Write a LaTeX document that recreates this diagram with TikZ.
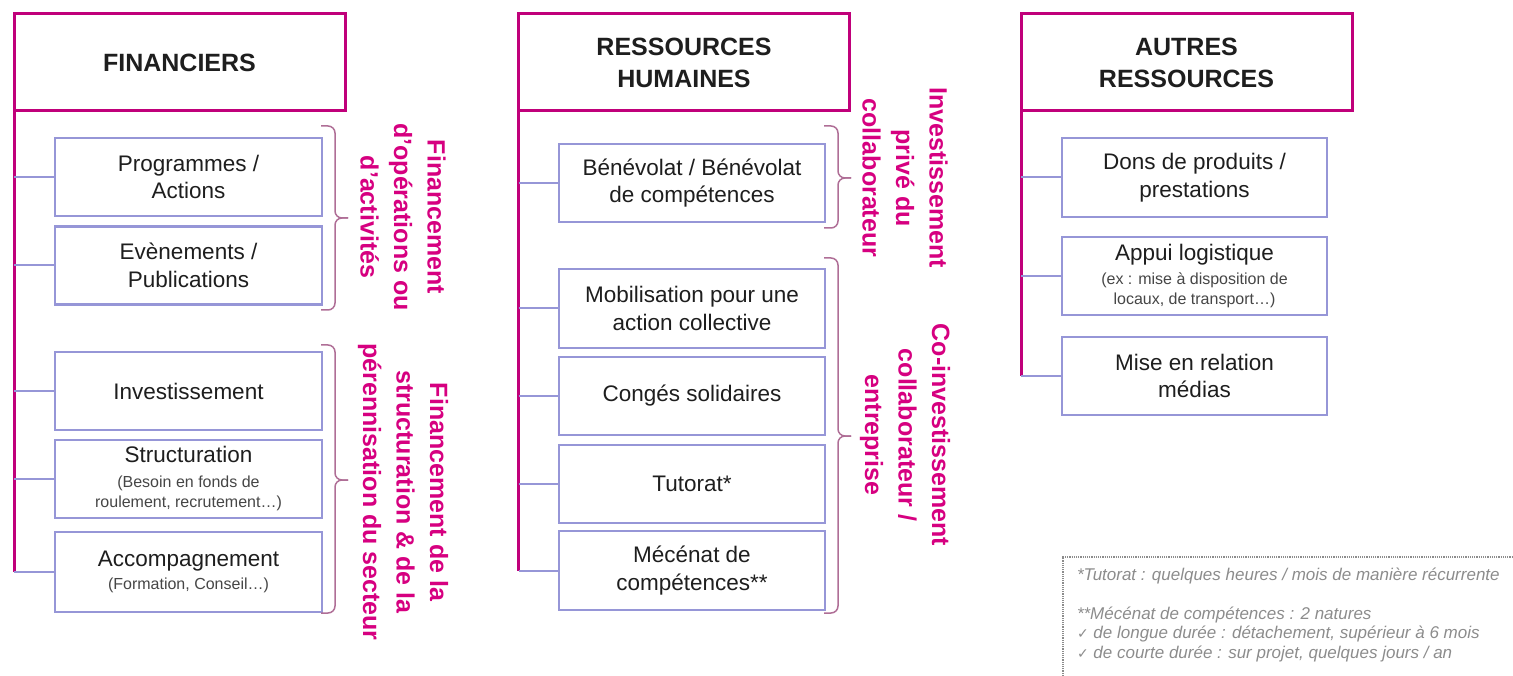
\documentclass[tikz,border=0pt]{standalone}
\usepackage{fontspec}
\setmainfont{Liberation Sans}
\newfontfamily\dejavu{DejaVu Sans}
\definecolor{mag}{RGB}{192,0,122}
\definecolor{magtext}{RGB}{214,0,128}
\definecolor{lav}{RGB}{150,150,215}
\definecolor{bracecol}{RGB}{175,110,150}
\definecolor{ink}{RGB}{30,30,30}
\definecolor{subink}{RGB}{70,70,70}
\definecolor{notegray}{RGB}{140,140,140}
\begin{document}
\begin{tikzpicture}[x=1pt,y=-1pt,
  every node/.style={outer sep=0pt,inner sep=0pt},
  headbox/.style={draw=mag,line width=3pt,fill=white,minimum width=331pt,minimum height=97pt,
    align=center,text=ink,font=\bfseries\fontsize{25}{32}\selectfont},
  itembox/.style={draw=lav,line width=2.5pt,fill=white,minimum height=78pt,
    align=center,text=ink,font=\fontsize{22.5}{27.5}\selectfont},
  trunk/.style={draw=mag,line width=3pt},
  conn/.style={draw=lav,line width=2pt},
  bracestyle/.style={draw=bracecol,line width=1.5pt,rounded corners=7pt},
  sidetext/.style={rotate=-90,align=center,text=magtext,font=\bfseries\fontsize{25}{33.5}\selectfont}
]
\useasboundingbox (0,0) rectangle (1513,676);
\newcommand{\smalltxt}{\fontsize{16}{21}\selectfont\color{subink}}

% ---------- FINANCIERS ----------
\node[headbox] (fin) at (179.5,62.5) {FINANCIERS};
\node[itembox,minimum width=267pt] (prog) at (188.5,177) {Programmes /\\Actions};
\node[itembox,minimum width=267pt] (even) at (188.5,265.5) {Evènements /\\Publications};
\node[itembox,minimum width=267pt] (inv) at (188.5,391) {Investissement};
\node[itembox,minimum width=267pt] (struc) at (188.5,479) {Structuration\\[-3pt]\smalltxt (Besoin en fonds de\\[-7pt]\smalltxt roulement, recrutement…)};
\node[itembox,minimum width=267pt,minimum height=80pt] (acc) at (188.5,572) {Accompagnement\\[-4pt]\smalltxt (Formation, Conseil…)};

\draw[trunk] (fin.south west) -- (fin.south west |- acc.west);
\foreach \b in {prog,even,inv,struc,acc}
  \draw[conn] (fin.south west |- \b.west) -- (\b.west);

% braces
\coordinate (fb1a) at (321,126);
\coordinate (fb1t) at (335,218);
\coordinate (fb1tip) at (348,218);
\coordinate (fb1b) at (321,310);
\draw[bracestyle] (fb1a) -| (fb1t) -- (fb1tip);
\draw[bracestyle] (fb1b) -| (fb1t) -- (fb1tip);
\coordinate (fb2a) at (321,345);
\coordinate (fb2t) at (335,480);
\coordinate (fb2tip) at (348,480);
\coordinate (fb2b) at (321,613);
\draw[bracestyle] (fb2a) -| (fb2t) -- (fb2tip);
\draw[bracestyle] (fb2b) -| (fb2t) -- (fb2tip);

\node[sidetext] (fs1) at (403,217) {Financement\\d'opérations ou\\d'activités};
\node[sidetext] (fs2) at (403,492) {Financement de la\\structuration \& de la\\pérennisation du secteur};

% ---------- RESSOURCES HUMAINES ----------
\node[headbox] (rh) at (684,62.5) {RESSOURCES\\HUMAINES};
\node[itembox,minimum width=266pt] (ben) at (692,183) {Bénévolat / Bénévolat\\de compétences};
\node[itembox,minimum width=266pt,minimum height=79pt] (mob) at (692,308.5) {Mobilisation pour une\\action collective};
\node[itembox,minimum width=266pt] (cong) at (692,396) {Congés solidaires};
\node[itembox,minimum width=266pt] (tut) at (692,484) {Tutorat*};
\node[itembox,minimum width=266pt,minimum height=79pt] (mec) at (692,570.5) {Mécénat de\\compétences**};

\draw[trunk] (rh.south west) -- (rh.south west |- mec.west);
\foreach \b in {ben,mob,cong,tut,mec}
  \draw[conn] (rh.south west |- \b.west) -- (\b.west);

\coordinate (rb1a) at (824,126);
\coordinate (rb1t) at (838,178);
\coordinate (rb1tip) at (851,178);
\coordinate (rb1b) at (824,228);
\draw[bracestyle] (rb1a) -| (rb1t) -- (rb1tip);
\draw[bracestyle] (rb1b) -| (rb1t) -- (rb1tip);
\coordinate (rb2a) at (824,258);
\coordinate (rb2t) at (838,436);
\coordinate (rb2tip) at (851,436);
\coordinate (rb2b) at (824,613);
\draw[bracestyle] (rb2a) -| (rb2t) -- (rb2tip);
\draw[bracestyle] (rb2b) -| (rb2t) -- (rb2tip);

\node[sidetext] (rs1) at (905,178) {Investissement\\privé du\\collaborateur};
\node[sidetext] (rs2) at (905,435) {Co-investissement\\collaborateur /\\entreprise};

% ---------- AUTRES RESSOURCES ----------
\node[headbox] (ar) at (1186.5,62.5) {AUTRES\\RESSOURCES};
\node[itembox,minimum width=265pt,minimum height=79pt] (dons) at (1194.5,177.5) {Dons de produits /\\prestations};
\node[itembox,minimum width=265pt] (app) at (1194.5,276) {Appui logistique\\[-4pt]\smalltxt (ex : mise à disposition de\\[-7.5pt]\smalltxt locaux, de transport…)};
\node[itembox,minimum width=265pt] (mise) at (1194.5,376) {Mise en relation\\médias};

\draw[trunk] (ar.south west) -- (ar.south west |- mise.west);
\foreach \b in {dons,app,mise}
  \draw[conn] (ar.south west |- \b.west) -- (\b.west);

% ---------- Footnote ----------
\coordinate (nbl) at (1063,676);
\coordinate (ntl) at (1063,557);
\coordinate (ntr) at (1513,557);
\draw[notegray,line width=1.2pt,densely dotted] (nbl) -- (ntl) -- (ntr);
\node[anchor=north west,align=left,text=notegray,font=\itshape\fontsize{17}{19.5}\selectfont] (note) at (1077,568)
 {*Tutorat : quelques heures / mois de manière récurrente\\[19pt]
  **Mécénat de compétences : 2 natures\\
  {\dejavu\upshape\fontsize{14}{19.5}\selectfont ✓} de longue durée : détachement, supérieur à 6 mois\\
  {\dejavu\upshape\fontsize{14}{19.5}\selectfont ✓} de courte durée : sur projet, quelques jours / an};
\end{tikzpicture}
\end{document}
